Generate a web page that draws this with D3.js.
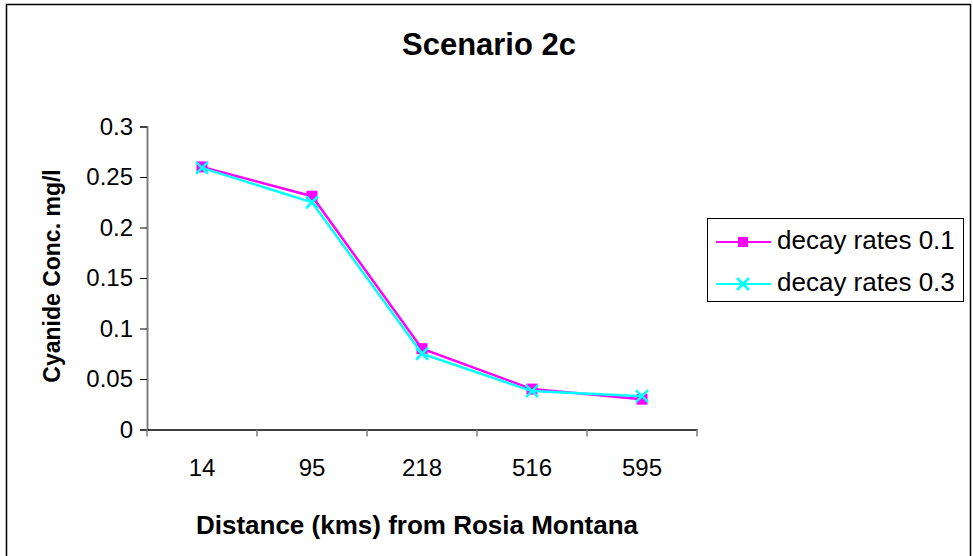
<!DOCTYPE html>
<html><head><meta charset="utf-8">
<script src="https://cdn.jsdelivr.net/npm/d3@7"></script>
<style>body{margin:0;background:#fff}svg{display:block;font-family:"Liberation Sans",Arial,sans-serif}</style>
</head><body>
<svg id="c" width="973" height="556"></svg>
<script>
const categories = ["14","95","218","516","595"];
const series1 = [0.26, 0.231, 0.08, 0.04, 0.03];
const series2 = [0.259, 0.225, 0.075, 0.038, 0.033];
const seriesNames = ["decay rates 0.1","decay rates 0.3"];
const yTicks = [0,0.05,0.1,0.15,0.2,0.25,0.3];
const yTickLabels = ["0","0.05","0.1","0.15","0.2","0.25","0.3"];

const svg = d3.select("#c");
svg.append("rect").attr("x",6.5).attr("y",4.5).attr("width",964).attr("height",560)
  .attr("fill","#fff").attr("stroke","#000").attr("stroke-width",1.5);

const L=147,R=697,T=126.5,B=429.5;
const x = d3.scaleBand().domain(categories).range([L,R]);
const y = d3.scaleLinear().domain([0,0.3]).range([B,T]);

svg.append("text").attr("x",489).attr("y",55).attr("text-anchor","middle")
  .attr("font-size",31).attr("font-weight","bold").text("Scenario 2c");

// y axis
const ya = svg.append("g").attr("transform",`translate(${L},0)`)
  .call(d3.axisLeft(y).tickValues(yTicks).tickFormat((d,i)=>yTickLabels[i]).tickSize(7).tickPadding(7));
ya.select(".domain").attr("stroke","#808080").attr("stroke-width",2);
ya.selectAll(".tick line").attr("stroke","#000");
ya.selectAll("text").attr("font-size",24).attr("fill","#000").attr("font-family","Liberation Sans, Arial");

// x axis
const xa = svg.append("g").attr("transform",`translate(0,${B})`)
  .call(d3.axisBottom(x).tickSize(0).tickPadding(29));
xa.select(".domain").attr("stroke","#000").attr("stroke-width",1.5);
xa.selectAll("text").attr("font-size",24).attr("fill","#000").attr("font-family","Liberation Sans, Arial");
const bounds = categories.map(c=>x(c)).concat([R]);
xa.selectAll(".bt").data(bounds).enter().append("line")
  .attr("x1",d=>d).attr("x2",d=>d).attr("y1",0).attr("y2",7)
  .attr("stroke","#808080").attr("stroke-width",1.5);

svg.append("text").attr("x",417).attr("y",534).attr("text-anchor","middle")
  .attr("font-size",26).attr("font-weight","bold").text("Distance (kms) from Rosia Montana");
svg.append("text").attr("transform","translate(60,276) rotate(-90)").attr("text-anchor","middle")
  .attr("font-size",23).attr("font-weight","bold").text("Cyanide Conc. mg/l");

const cx = c=>x(c)+x.bandwidth()/2;
const line = d3.line().x((d,i)=>cx(categories[i])).y(d=>y(d));
const colors = ["#ff00ff","#00ffff"];

svg.append("path").datum(series1).attr("d",line).attr("fill","none").attr("stroke",colors[0]).attr("stroke-width",2.5);
svg.selectAll(".m1").data(series1).enter().append("rect")
  .attr("x",(d,i)=>cx(categories[i])-5.5).attr("y",d=>y(d)-5.5).attr("width",11).attr("height",11).attr("fill",colors[0]);
svg.append("path").datum(series2).attr("d",line).attr("fill","none").attr("stroke",colors[1]).attr("stroke-width",2.5);
const xm = (g,px,py)=>{g.append("path").attr("d",`M${px-6},${py-6}L${px+6},${py+6}M${px-6},${py+6}L${px+6},${py-6}`)
  .attr("stroke",colors[1]).attr("stroke-width",2.5).attr("fill","none");};
series2.forEach((d,i)=>xm(svg,cx(categories[i]),y(d)));

// legend
svg.append("rect").attr("x",707.5).attr("y",218.5).attr("width",256).attr("height",83)
  .attr("fill","#fff").attr("stroke","#000").attr("stroke-width",1);
const ly=[242,284];
seriesNames.forEach((n,i)=>{
  svg.append("line").attr("x1",716).attr("x2",771).attr("y1",ly[i]).attr("y2",ly[i]).attr("stroke",colors[i]).attr("stroke-width",2);
  if(i===0) svg.append("rect").attr("x",738).attr("y",ly[i]-5).attr("width",10).attr("height",10).attr("fill",colors[0]);
  else xm(svg,743,ly[i]);
  svg.append("text").attr("x",777).attr("y",ly[i]+7).attr("font-size",26).text(n);
});
</script>
</body></html>
